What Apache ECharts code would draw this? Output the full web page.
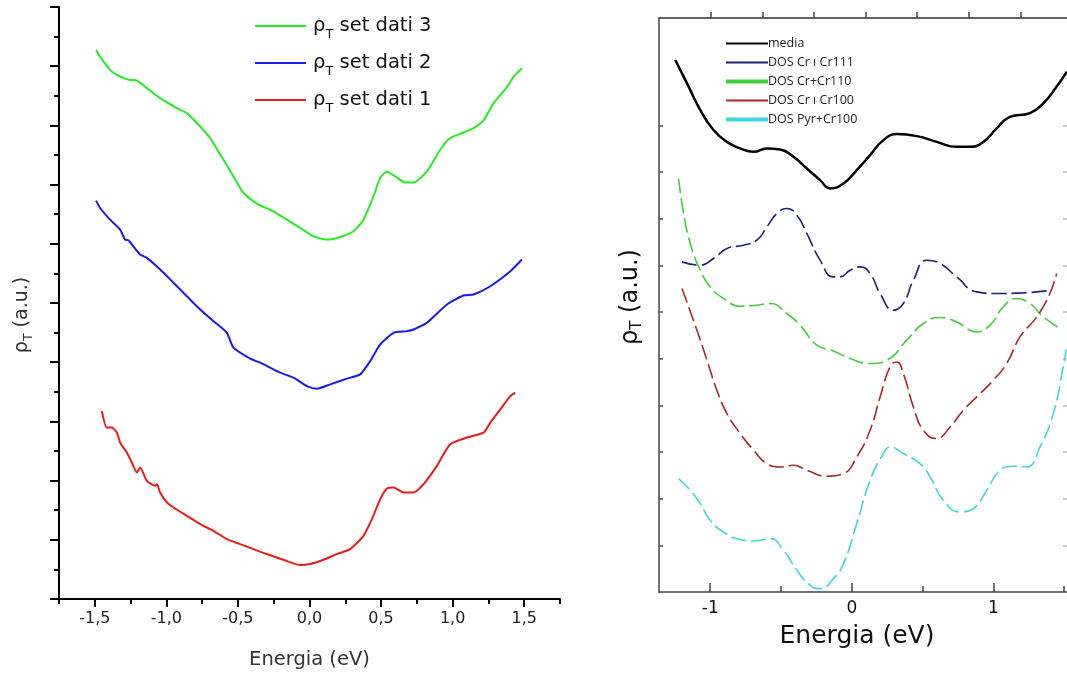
<!DOCTYPE html>
<html>
<head>
<meta charset="utf-8">
<script src="https://cdn.jsdelivr.net/npm/echarts@6/dist/echarts.min.js"></script>
<style>
  html, body { margin: 0; padding: 0; background: #fff; }
  #chart { width: 1067px; height: 675px; }
</style>
</head>
<body>
<div id="chart"></div>
<script>
// ---- Left panel: measured rho_T curves (energy in eV, rho_T in a.u.) ----
const set3E = [-1.491,-1.463,-1.393,-1.346,-1.253,-1.218,-1.136,-1.043,-0.927,-0.857,-0.764,-0.694,-0.601,-0.531,-0.461,-0.368,-0.252,-0.158,-0.065,0.028,0.122,0.215,0.307,0.377,0.447,0.494,0.541,0.599,0.669,0.727,0.820,0.913,0.983,1.076,1.146,1.216,1.286,1.379,1.426,1.484];
const set3R = [9.275,9.162,8.938,8.853,8.769,8.769,8.629,8.460,8.292,8.207,7.981,7.786,7.420,7.138,6.858,6.678,6.548,6.408,6.268,6.127,6.071,6.116,6.211,6.408,6.801,7.111,7.223,7.138,7.037,7.037,7.223,7.589,7.786,7.880,7.954,8.083,8.376,8.646,8.825,8.966];

const set2E = [-1.491,-1.463,-1.393,-1.323,-1.288,-1.265,-1.183,-1.136,-1.043,-0.950,-0.857,-0.764,-0.671,-0.577,-0.531,-0.414,-0.345,-0.205,-0.112,-0.018,0.052,0.145,0.261,0.354,0.424,0.494,0.587,0.681,0.727,0.820,0.960,1.076,1.146,1.263,1.403,1.484];
const set2R = [6.729,6.605,6.408,6.239,6.071,6.059,5.818,5.762,5.565,5.341,5.115,4.890,4.693,4.497,4.245,4.059,3.992,3.823,3.739,3.597,3.553,3.626,3.722,3.794,4.019,4.300,4.497,4.525,4.553,4.666,4.975,5.126,5.143,5.283,5.536,5.734];

const set1E = [-1.451,-1.416,-1.381,-1.346,-1.323,-1.276,-1.241,-1.206,-1.183,-1.136,-1.078,-1.066,-1.043,-0.997,-0.950,-0.857,-0.764,-0.671,-0.577,-0.484,-0.391,-0.298,-0.182,-0.065,0.005,0.098,0.191,0.284,0.377,0.436,0.494,0.541,0.587,0.657,0.727,0.797,0.890,0.983,1.100,1.216,1.263,1.333,1.403,1.437];
const set1R = [3.175,2.896,2.896,2.811,2.643,2.474,2.305,2.137,2.221,1.995,1.911,1.939,1.799,1.631,1.546,1.405,1.265,1.152,1.012,0.927,0.843,0.759,0.663,0.573,0.590,0.663,0.759,0.843,1.067,1.349,1.686,1.867,1.884,1.799,1.799,1.939,2.248,2.614,2.727,2.811,2.980,3.204,3.428,3.486];

const leftXTicks = [-1.5,-1.0,-0.5,0.0,0.5,1.0,1.5];
const leftXMinorTicks = [-1.75,-1.25,-0.75,-0.25,0.25,0.75,1.25,1.75];

// ---- Right panel: calculated DOS curves ----
const mediaE = [-1.247,-1.164,-1.071,-0.977,-0.882,-0.789,-0.694,-0.600,-0.506,-0.412,-0.318,-0.224,-0.153,-0.059,0.035,0.129,0.223,0.318,0.459,0.600,0.741,0.835,0.929,1.023,1.117,1.258,1.352,1.447,1.519];
const mediaR = [11.40,10.90,10.33,9.90,9.646,9.505,9.432,9.505,9.483,9.325,9.076,8.825,8.647,8.754,9.040,9.361,9.683,9.812,9.769,9.646,9.539,9.539,9.646,9.934,10.18,10.26,10.47,10.83,11.15];

const cr111E = [-1.200,-1.071,-0.977,-0.882,-0.765,-0.670,-0.600,-0.529,-0.459,-0.388,-0.318,-0.224,-0.130,-0.083,-0.012,0.059,0.129,0.200,0.294,0.364,0.435,0.529,0.623,0.741,0.882,1.023,1.211,1.411];
const cr111R = [7.074,7.003,7.147,7.361,7.432,7.539,7.824,8.111,8.219,8.075,7.683,7.110,6.752,6.752,6.896,6.967,6.825,6.396,6.038,6.182,6.682,7.110,7.040,6.752,6.431,6.397,6.410,6.467];

const cr110E = [-1.224,-1.188,-1.141,-1.071,-1.000,-0.906,-0.789,-0.670,-0.577,-0.459,-0.365,-0.247,-0.130,-0.012,0.129,0.247,0.388,0.505,0.623,0.741,0.882,0.976,1.070,1.164,1.258,1.352,1.470];
const cr110R = [8.862,8.111,7.468,6.896,6.538,6.289,6.124,6.146,6.182,5.968,5.717,5.288,5.166,5.003,4.896,4.967,5.396,5.753,5.882,5.788,5.573,5.717,6.109,6.289,6.182,5.895,5.646];

const cr100E = [-1.200,-1.094,-1.023,-0.953,-0.882,-0.789,-0.694,-0.600,-0.506,-0.412,-0.318,-0.176,-0.059,0.035,0.129,0.200,0.270,0.318,0.364,0.435,0.505,0.600,0.694,0.788,0.882,0.999,1.094,1.188,1.306,1.399,1.447];
const cr100R = [6.504,5.610,4.967,4.324,3.824,3.396,3.038,2.752,2.680,2.716,2.609,2.480,2.538,2.894,3.466,4.180,4.823,4.930,4.682,3.966,3.466,3.288,3.537,3.895,4.180,4.538,4.896,5.466,5.895,6.397,6.825];

const pyrE = [-1.224,-1.141,-1.071,-1.000,-0.906,-0.789,-0.694,-0.577,-0.483,-0.388,-0.294,-0.224,-0.130,-0.059,0.035,0.129,0.223,0.270,0.364,0.482,0.553,0.646,0.764,0.858,0.953,1.047,1.140,1.235,1.329,1.423,1.493,1.515];
const pyrR = [2.431,2.180,1.895,1.537,1.286,1.123,1.093,1.145,0.894,0.465,0.144,0.073,0.287,0.609,1.466,2.395,2.967,3.109,2.967,2.752,2.465,1.966,1.715,1.788,2.180,2.609,2.695,2.680,3.109,3.824,4.823,5.200];

const rightXTicks = [-1, 0, 1];
const rightXMinorTicks = [-0.5, 0.5, 1.5];
const rightYTicks = [1,2,3,4,5,6,7,8,9,10];
const rightTopTicks = [1,2,3,4,5,6,7];

const zip = (xs, ys) => xs.map((x, i) => [x, ys[i]]);

const FONT = 'DejaVu Sans, Verdana, sans-serif';
const rhoRich = (big, small, color, drop) => ({
  a: { fontSize: big, fontFamily: FONT, color: color },
  b: { fontSize: small, fontFamily: FONT, color: color, padding: [drop, 0, 0, 0] }
});

const chart = echarts.init(document.getElementById('chart'), null, { renderer: 'canvas' });

const leftLine = (name, color, xs, ys) => ({
  name, type: 'line', xAxisIndex: 0, yAxisIndex: 0,
  data: zip(xs, ys), showSymbol: false, symbol: 'none', smooth: 0.2,
  lineStyle: { color, width: 2 }, itemStyle: { color }
});
const rightLine = (name, color, xs, ys, dashed, width) => ({
  name, type: 'line', xAxisIndex: 2, yAxisIndex: 1,
  data: zip(xs, ys), showSymbol: false, symbol: 'none', smooth: 0.5,
  lineStyle: { color, width: width, type: dashed ? [15, 5] : 'solid' }, itemStyle: { color }
});

const legendBar = w => 'path://M0,6 L' + w + ',6 L' + w + ',8 L0,8 Z';
const legendThick = w => 'path://M0,5 L' + w + ',5 L' + w + ',9 L0,9 Z';

chart.setOption({
  animation: false,
  backgroundColor: '#ffffff',
  grid: [
    { left: 59, top: 7, width: 501, height: 593 },
    { left: 659, top: 18, width: 408, height: 574 }
  ],
  legend: [
    {
      orient: 'vertical', left: 255, top: 16, padding: 0, itemGap: 12,
      itemWidth: 51, itemHeight: 14, icon: legendBar(51),
      data: ['ρT set dati 3', 'ρT set dati 2', 'ρT set dati 1'],
      formatter: n => '{a|ρ}{b|T}{a| ' + n.slice(3) + '}',
      textStyle: { fontFamily: FONT, fontSize: 19.5, color: '#111', padding: [0, 0, 0, 2], rich: rhoRich(19.5, 13, '#111', 17) }
    },
    {
      orient: 'vertical', left: 726, top: 37, padding: 0, itemGap: 6,
      itemWidth: 42, itemHeight: 12,
      data: [
        { name: 'media', icon: legendBar(42) },
        { name: 'DOS Cr \u0131 Cr111', icon: legendBar(42) },
        { name: 'DOS Cr+Cr110', icon: legendThick(42) },
        { name: 'DOS Cr \u0131 Cr100', icon: legendBar(42) },
        { name: 'DOS Pyr+Cr100', icon: legendThick(42) }
      ],
      textStyle: { fontFamily: 'Open Sans, DejaVu Sans, sans-serif', fontSize: 12.5, color: '#222', padding: [0, 0, 0, -5] }
    }
  ],
  xAxis: [
    {
      gridIndex: 0, type: 'value', position: 'bottom', min: -1.75, max: 1.75,
      name: 'Energia (eV)', nameLocation: 'middle', nameGap: 51,
      nameTextStyle: { fontFamily: FONT, fontSize: 19.5, color: '#333' },
      axisLine: { show: true, onZero: false, lineStyle: { color: '#000', width: 2 } },
      axisTick: { show: true, inside: false, length: 8, customValues: leftXTicks, lineStyle: { color: '#000', width: 2 } },
      axisLabel: { show: true, customValues: leftXTicks, margin: 12, fontFamily: FONT, fontSize: 16, color: '#222',
        formatter: v => v.toFixed(1).replace('.', ',') },
      splitLine: { show: false }
    },
    {
      gridIndex: 0, type: 'value', position: 'bottom', offset: 0, min: -1.75, max: 1.75,
      axisLine: { show: false, onZero: false },
      axisTick: { show: true, inside: false, length: 5, customValues: leftXMinorTicks, lineStyle: { color: '#000', width: 2 } },
      axisLabel: { show: false }, splitLine: { show: false }
    },
    {
      gridIndex: 1, type: 'value', position: 'bottom', min: -1.362, max: 1.52,
      name: 'Energia (eV)', nameLocation: 'middle', nameGap: 32,
      nameTextStyle: { fontFamily: FONT, fontSize: 25, color: '#111', padding: [0, 12, 0, 0] },
      axisLine: { show: true, onZero: false, lineStyle: { color: '#444', width: 1.5 } },
      axisTick: { show: true, inside: true, length: 9, customValues: rightXTicks, lineStyle: { color: '#444', width: 1.5 } },
      axisLabel: { show: true, customValues: rightXTicks, margin: 8, fontFamily: FONT, fontSize: 17, color: '#111',
        formatter: v => String(v) },
      splitLine: { show: false }
    },
    {
      gridIndex: 1, type: 'value', position: 'bottom', offset: 0, min: -1.362, max: 1.52,
      axisLine: { show: false, onZero: false },
      axisTick: { show: true, inside: true, length: 6, customValues: rightXMinorTicks, lineStyle: { color: '#444', width: 1.5 } },
      axisLabel: { show: false }, splitLine: { show: false }
    },
    {
      // frame top edge with evenly spaced small ticks, no labels
      gridIndex: 1, type: 'value', position: 'top', min: 0, max: 7.9,
      axisLine: { show: true, onZero: false, lineStyle: { color: '#333', width: 1.5 } },
      axisTick: { show: true, inside: false, length: 6, customValues: rightTopTicks, lineStyle: { color: '#444', width: 1.5 } },
      axisLabel: { show: false }, splitLine: { show: false }
    }
  ],
  yAxis: [
    {
      gridIndex: 0, type: 'value', position: 'left', min: 0, max: 10, interval: 1,
      name: '{a|ρ}{b|T}{a| (a.u.)}', nameLocation: 'middle', nameGap: 24, nameRotate: 90,
      nameTextStyle: { padding: [0, 24, 0, 0], rich: rhoRich(19, 12.5, '#333', 12) },
      axisLine: { show: true, onZero: false, lineStyle: { color: '#000', width: 2 } },
      axisTick: { show: true, inside: false, length: 9, lineStyle: { color: '#000', width: 2 } },
      minorTick: { show: true, splitNumber: 2, length: 5, lineStyle: { color: '#000', width: 2 } },
      axisLabel: { show: false }, splitLine: { show: false }
    },
    {
      gridIndex: 1, type: 'value', position: 'left', min: 0, max: 12.3,
      name: '{a|ρ}{b|T}{a| (a.u.)}', nameLocation: 'middle', nameGap: 14, nameRotate: 90,
      nameTextStyle: { padding: [0, 0, 0, 16], rich: rhoRich(24, 15, '#111', 14) },
      axisLine: { show: true, onZero: false, lineStyle: { color: '#444', width: 1.5 } },
      axisTick: { show: true, inside: true, length: 4, customValues: rightYTicks, lineStyle: { color: '#555', width: 1.5 } },
      axisLabel: { show: false }, splitLine: { show: false }
    },
    {
      gridIndex: 1, type: 'value', position: 'right', min: 0, max: 12.3,
      axisLine: { show: false, onZero: false },
      axisTick: { show: true, inside: true, length: 4, customValues: rightYTicks, lineStyle: { color: '#bbb', width: 1.5 } },
      axisLabel: { show: false }, splitLine: { show: false }
    }
  ],
  series: [
    leftLine('ρT set dati 3', '#22ee22', set3E, set3R),
    leftLine('ρT set dati 2', '#1a1aee', set2E, set2R),
    leftLine('ρT set dati 1', '#ee1a1a', set1E, set1R),
    rightLine('media', '#000000', mediaE, mediaR, false, 2.5),
    rightLine('DOS Cr \u0131 Cr111', '#1c2370', cr111E, cr111R, true, 1.6),
    rightLine('DOS Cr+Cr110', '#3ecf3a', cr110E, cr110R, true, 1.6),
    rightLine('DOS Cr \u0131 Cr100', '#a42a2a', cr100E, cr100R, true, 1.6),
    rightLine('DOS Pyr+Cr100', '#3fd6dc', pyrE, pyrR, true, 1.6)
  ]
});
</script>
</body>
</html>
